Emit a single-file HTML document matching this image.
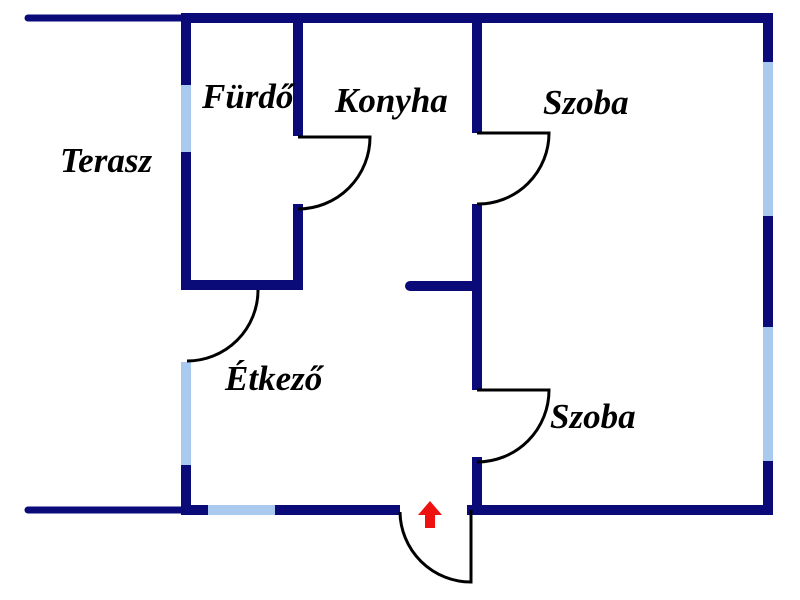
<!DOCTYPE html>
<html><head><meta charset="utf-8"><style>
html,body{margin:0;padding:0;background:#fff;}
svg{display:block}
text{font-family:"Liberation Serif",serif;font-weight:bold;font-style:italic;font-size:35px;fill:#000}
</style></head><body>
<svg width="800" height="600" viewBox="0 0 800 600" xmlns="http://www.w3.org/2000/svg">
<g stroke="#0a0a78" stroke-linecap="round" fill="none">
<line x1="28" y1="18" x2="186" y2="18" stroke-width="7"/>
<line x1="28" y1="510" x2="186" y2="510" stroke-width="7"/>
</g>
<g stroke="#0a0a78" stroke-width="10" fill="none" stroke-linecap="square">
<line x1="186" y1="18" x2="768" y2="18"/>
<line x1="768" y1="18" x2="768" y2="510"/>
<line x1="186" y1="18" x2="186" y2="285"/>
<line x1="186" y1="465" x2="186" y2="510"/>
<line x1="186" y1="510" x2="400" y2="510" stroke-linecap="butt"/>
<line x1="472" y1="510" x2="768" y2="510"/>
<line x1="298" y1="18" x2="298" y2="136" stroke-linecap="butt"/>
<line x1="298" y1="209" x2="298" y2="285"/>
<line x1="186" y1="285" x2="298" y2="285"/>
<line x1="477" y1="18" x2="477" y2="133" stroke-linecap="butt"/>
<line x1="477" y1="204" x2="477" y2="390" stroke-linecap="butt"/>
<line x1="477" y1="462" x2="477" y2="510"/>
<line x1="410" y1="286" x2="477" y2="286" stroke-linecap="round"/>
</g>
<g stroke="#a9c9ee" stroke-width="10" fill="none">
<line x1="186" y1="85" x2="186" y2="152"/>
<line x1="186" y1="362" x2="186" y2="465"/>
<line x1="208" y1="510" x2="275" y2="510"/>
<line x1="768" y1="62" x2="768" y2="216"/>
<line x1="768" y1="327" x2="768" y2="461"/>
</g>
<g stroke="#000" stroke-width="3" fill="none">
<path d="M298 137 H370 A72 72 0 0 1 298 209"/>
<path d="M477 133 H549 A71 71 0 0 1 477 204"/>
<path d="M477 390 H549 A72 72 0 0 1 477 462"/>
<path d="M258 290 A71 71 0 0 1 187 361"/>
<path d="M400 512 A71 71 0 0 0 471 582 V510"/>
</g>
<polygon points="430,501 442,515 435,515 435,528 425,528 425,515 418,515" fill="#ee1111"/>
<text x="60" y="172">Terasz</text>
<text x="202" y="108">Fürdő</text>
<text x="335" y="112">Konyha</text>
<text x="543" y="114">Szoba</text>
<text x="225" y="390">Étkező</text>
<text x="550" y="428">Szoba</text>
</svg>
</body></html>
